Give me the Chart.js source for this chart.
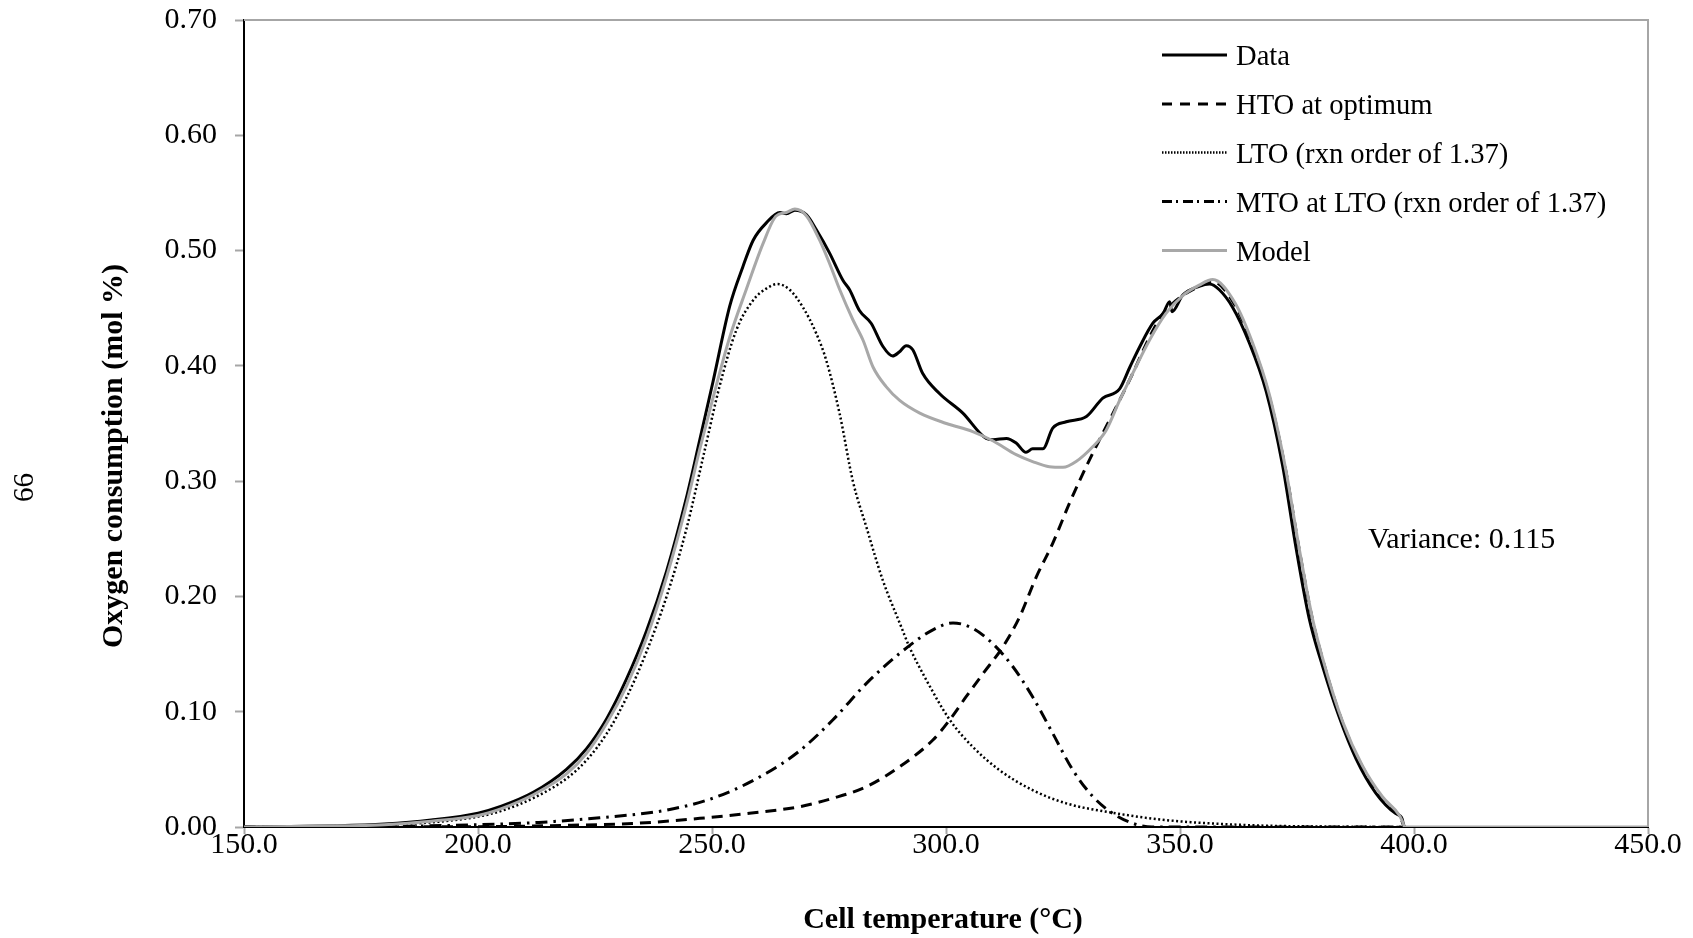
<!DOCTYPE html>
<html>
<head>
<meta charset="utf-8">
<script src="https://cdn.jsdelivr.net/npm/chart.js@4.4.1/dist/chart.umd.min.js"></script>
<style>
  html, body { margin: 0; padding: 0; background: #fff; }
  #wrap { width: 1693px; height: 938px; }
</style>
</head>
<body>
<div id="wrap"><canvas id="chart" width="1693" height="938"></canvas></div>
<script>
// values (temperature in °C, oxygen consumption in mol %)
const dataTemp = [150, 160, 170, 180, 190, 200, 205, 211.8, 218.9, 223.2, 227.5, 231.7, 236.0, 240.3, 244.5, 247.4, 250.2, 253.8, 256.6, 258.8, 261.6, 264.5, 265.9, 267.7, 270.2, 272.3, 275.1, 278.0, 279.4, 281.5, 284.0, 286.5, 288.6, 290.0, 291.5, 292.9, 295.0, 298.6, 303.6, 308.6, 310.0, 312.9, 315.0, 317.1, 318.5, 320.7, 322.8, 325.7, 330.0, 333.5, 337.1, 339.3, 341.4, 344.2, 346.4, 347.8, 348.3, 350.6, 354.1, 356.3, 358.4, 361.2, 364.8, 368.4, 371.9, 374.8, 377.6, 380.5, 384.0, 387.6, 391.8, 396.1, 397.5, 397.8];
const dataO2 = [0, 0.0005, 0.001, 0.0025, 0.006, 0.012, 0.018, 0.030, 0.050, 0.068, 0.094, 0.128, 0.170, 0.222, 0.285, 0.336, 0.386, 0.452, 0.486, 0.509, 0.524, 0.533, 0.532, 0.535, 0.531, 0.518, 0.498, 0.474, 0.466, 0.448, 0.437, 0.417, 0.4085, 0.412, 0.4175, 0.414, 0.3935, 0.376, 0.359, 0.337, 0.336, 0.337, 0.333, 0.325, 0.328, 0.328, 0.346, 0.3515, 0.356, 0.372, 0.380, 0.399, 0.4166, 0.437, 0.4455, 0.4556, 0.447, 0.4614, 0.469, 0.471, 0.466, 0.451, 0.420, 0.378, 0.314, 0.242, 0.181, 0.139, 0.0956, 0.0594, 0.0297, 0.0116, 0.0067, 0];

const htoTemp = [150, 200, 220, 233, 247.4, 258, 268.7, 275.8, 283, 290.1, 297.2, 300.8, 304.3, 307.9, 312.1, 315.7, 319.3, 322.8, 326.4, 330, 332.8, 336.4, 339.9, 343.5, 346.4, 348.4, 350.6, 354.1, 357, 361.7, 365.5, 369.1, 372.6, 375.5, 378.3, 381.2, 384.7, 389, 393.3, 396.9, 398];
const htoO2 = [0, 0.0003, 0.0015, 0.003, 0.0075, 0.0119, 0.0176, 0.0249, 0.035, 0.0523, 0.0755, 0.093, 0.113, 0.133, 0.156, 0.182, 0.217, 0.246, 0.281, 0.313, 0.336, 0.3645, 0.3935, 0.425, 0.4455, 0.454, 0.461, 0.469, 0.473, 0.453, 0.418, 0.373, 0.309, 0.240, 0.180, 0.135, 0.091, 0.052, 0.025, 0.009, 0];

const ltoTemp = [150, 170, 180, 190, 200, 205, 211.8, 218.9, 223.2, 227.5, 231.7, 236, 240.3, 244.5, 248.4, 251.6, 255.2, 258.8, 261.6, 264, 266.6, 269.4, 272.3, 274.4, 277.3, 280.1, 283, 286.5, 290.1, 292.2, 295.8, 300.8, 305.7, 311.4, 318.5, 325.7, 336.3, 347, 364, 380, 398];
const ltoO2 = [0, 0.0008, 0.002, 0.004, 0.009, 0.014, 0.025, 0.042, 0.058, 0.081, 0.112, 0.152, 0.200, 0.258, 0.326, 0.382, 0.431, 0.457, 0.467, 0.471, 0.466, 0.451, 0.428, 0.405, 0.358, 0.300, 0.260, 0.214, 0.177, 0.156, 0.1275, 0.093, 0.0696, 0.0494, 0.032, 0.0205, 0.0119, 0.006, 0.0017, 0.0004, 0];

const mtoTemp = [150, 180, 200, 213, 226, 240.3, 250.9, 261.6, 268.7, 275.8, 283, 290.1, 297.2, 301.5, 305.7, 310, 314.3, 318.5, 322.8, 327.1, 331.4, 335.6, 339.9, 344, 398];
const mtoO2 = [0, 0.0005, 0.002, 0.004, 0.008, 0.0147, 0.026, 0.0466, 0.066, 0.0928, 0.1246, 0.1506, 0.171, 0.177, 0.1723, 0.159, 0.139, 0.113, 0.0813, 0.0494, 0.0263, 0.0119, 0.0032, 0, 0];

const modelTemp = [150, 160, 170, 180, 190, 200, 205, 211.8, 218.9, 223.2, 227.5, 231.7, 236, 240.3, 244.5, 247.4, 250.2, 253.8, 257.3, 260.9, 263.7, 265.9, 267.7, 270.2, 273, 275.1, 277.3, 280.1, 282.3, 284.4, 287.2, 290.1, 294.4, 300.1, 305.7, 310, 315, 318.5, 322.1, 325, 327.8, 331.4, 334.2, 337.1, 339.9, 343.5, 347, 350.6, 354.1, 357, 361.7, 365.5, 369.1, 372.6, 375.5, 378.3, 381.2, 384.7, 389, 393.3, 396.9, 397.6, 398, 450];
const modelO2 = [0, 0.0004, 0.001, 0.002, 0.005, 0.010, 0.016, 0.028, 0.046, 0.064, 0.090, 0.122, 0.164, 0.217, 0.279, 0.328, 0.372, 0.425, 0.466, 0.506, 0.530, 0.533, 0.536, 0.530, 0.509, 0.489, 0.466, 0.440, 0.422, 0.399, 0.382, 0.370, 0.359, 0.350, 0.343, 0.335, 0.323, 0.317, 0.3125, 0.312, 0.317, 0.330, 0.344, 0.370, 0.3935, 0.4225, 0.4455, 0.461, 0.470, 0.4748, 0.455, 0.420, 0.375, 0.310, 0.241, 0.181, 0.136, 0.092, 0.053, 0.026, 0.010, 0.004, 0, 0];

const seriesNames = ["Data", "HTO at optimum", "LTO (rxn order of 1.37)", "MTO at LTO (rxn order of 1.37)", "Model"];
const xTicks = [150, 200, 250, 300, 350, 400, 450];
const yTicks = [0, 0.1, 0.2, 0.3, 0.4, 0.5, 0.6, 0.7];
const varianceText = "Variance: 0.115";

const serif = '"Liberation Serif", "Times New Roman", serif';

function pts(xs, ys) {
    return xs.map((x, i) => ({ x: x, y: ys[i] }));
}

const styles = [
    { color: '#000000', width: 3, dash: [] },
    { color: '#000000', width: 3, dash: [11, 7] },
    { color: '#000000', width: 2.5, dash: [2, 2.5] },
    { color: '#000000', width: 3, dash: [12, 6, 2.5, 6] },
    { color: '#a8a8a8', width: 3, dash: [] }
];
const legendDash = [[], [10, 8], [1.5, 1.5], [10, 4, 2, 5], []];

const sets = [
    pts(dataTemp, dataO2),
    pts(htoTemp, htoO2),
    pts(ltoTemp, ltoO2),
    pts(mtoTemp, mtoO2),
    pts(modelTemp, modelO2)
];

const datasets = sets.map((d, i) => ({
    label: seriesNames[i],
    data: d,
    borderColor: styles[i].color,
    borderWidth: styles[i].width,
    borderDash: styles[i].dash,
    pointRadius: 0,
    fill: false,
    cubicInterpolationMode: 'monotone',
    order: 5 - i
}));

// titles, legend, page number and the extra frame lines
const decorations = {
    id: 'decorations',
    afterDraw(chart) {
        const ctx = chart.ctx;
        const a = chart.chartArea;
        ctx.save();

        // gray top and right frame
        ctx.strokeStyle = '#a6a6a6';
        ctx.lineWidth = 2;
        ctx.setLineDash([]);
        ctx.beginPath();
        ctx.moveTo(a.left, a.top);
        ctx.lineTo(a.right, a.top);
        ctx.lineTo(a.right, a.bottom);
        ctx.stroke();

        // legend
        const rows = [55, 104, 152.5, 201.5, 250.5];
        ctx.font = '28.6px ' + serif;
        ctx.textAlign = 'left';
        ctx.textBaseline = 'alphabetic';
        rows.forEach((y, i) => {
            ctx.strokeStyle = styles[i].color;
            ctx.lineWidth = styles[i].width;
            ctx.setLineDash(legendDash[i]);
            ctx.beginPath();
            ctx.moveTo(1162, y);
            ctx.lineTo(1227, y);
            ctx.stroke();
            ctx.fillStyle = '#000';
            ctx.fillText(seriesNames[i], 1236, y + 10);
        });
        ctx.setLineDash([]);

        // variance note
        ctx.font = '30px ' + serif;
        ctx.fillText(varianceText, 1368, 548);

        // axis titles
        ctx.font = 'bold 30px ' + serif;
        ctx.textAlign = 'center';
        ctx.fillText('Cell temperature (°C)', 943, 928);
        ctx.save();
        ctx.translate(122, 456);
        ctx.rotate(-Math.PI / 2);
        ctx.fillText('Oxygen consumption (mol %)', 0, 0);
        ctx.restore();

        // page number, turned with the page
        ctx.font = '29px ' + serif;
        ctx.save();
        ctx.translate(33, 487.5);
        ctx.rotate(-Math.PI / 2);
        ctx.fillText('66', 0, 0);
        ctx.restore();

        ctx.restore();
    }
};

new Chart(document.getElementById('chart').getContext('2d'), {
    type: 'line',
    data: { datasets: datasets },
    options: {
        responsive: false,
        animation: false,
        devicePixelRatio: 1,
        layout: { padding: { left: 0, right: 45, top: 20, bottom: 0 } },
        plugins: {
            legend: { display: false },
            tooltip: { enabled: false }
        },
        scales: {
            x: {
                type: 'linear',
                min: 150,
                max: 450,
                afterFit: s => { s.height = 111; },
                afterBuildTicks: s => { s.ticks = xTicks.map(v => ({ value: v })); },
                border: { display: true, color: '#000', width: 2 },
                grid: { drawOnChartArea: false, drawTicks: true, tickLength: 7, tickColor: '#a6a6a6', tickWidth: 2 },
                ticks: {
                    color: '#000',
                    padding: -4,
                    maxRotation: 0,
                    font: { family: serif, size: 30, lineHeight: 1 },
                    callback: v => Number(v).toFixed(1)
                }
            },
            y: {
                type: 'linear',
                min: 0,
                max: 0.7,
                afterFit: s => {
                    s.width = 244;
                    s.paddingTop = 0;
                    s.paddingBottom = 0;
                },
                afterBuildTicks: s => { s.ticks = yTicks.map(v => ({ value: v })); },
                border: { display: true, color: '#000', width: 2 },
                grid: { drawOnChartArea: false, drawTicks: true, tickLength: 9, tickColor: '#a6a6a6', tickWidth: 2 },
                ticks: {
                    color: '#000',
                    padding: 18,
                    font: { family: serif, size: 30 },
                    callback: v => Number(v).toFixed(2)
                }
            }
        }
    },
    plugins: [decorations]
});
</script>
</body>
</html>
